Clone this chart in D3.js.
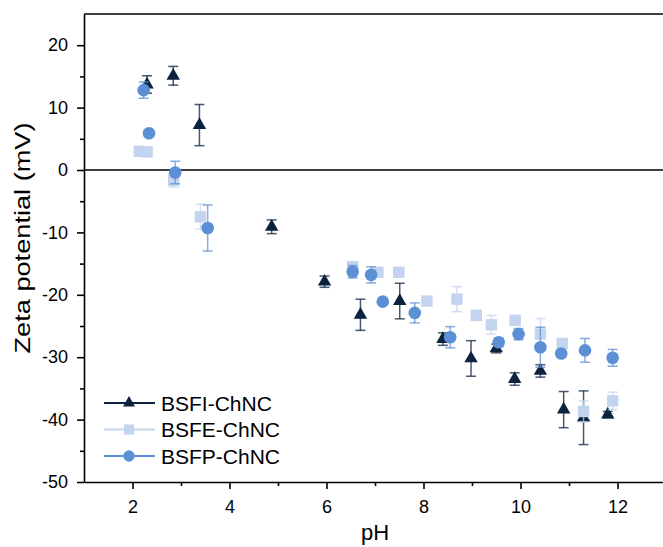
<!DOCTYPE html>
<html>
<head>
<meta charset="utf-8">
<script src="https://cdn.jsdelivr.net/npm/d3@7"></script>
<style>
  body { margin: 0; background: #fff; }
  text { font-family: "Liberation Sans", Arial, sans-serif; fill: #000; }
</style>
</head>
<body>
<div id="chart"></div>
<script>
// BSFI-ChNC (triangles)
var bsfiPH   = [2.30, 2.84, 3.38, 4.87, 5.96, 6.70, 7.51, 8.40, 8.98, 9.50, 9.88, 10.41, 10.89, 11.30, 11.80];
var bsfiZeta = [13.7, 15.1, 7.2, -9.1, -17.9, -23.2, -21.0, -27.1, -30.2, -28.6, -33.5, -32.2, -38.4, -39.7, -39.2];
var bsfiErr  = [1.4, 1.5, 3.3, 1.1, 0.9, 2.5, 2.85, 1.0, 2.85, 0.7, 1.0, 1.0, 2.9, 4.3, 0.5];

// BSFE-ChNC (squares)
var bsfePH   = [2.14, 2.30, 2.85, 3.40, 6.54, 7.06, 7.49, 8.07, 8.69, 9.09, 9.40, 9.89, 10.41, 10.86, 11.30, 11.90];
var bsfeZeta = [3.0, 2.9, -1.65, -7.5, -15.5, -16.4, -16.4, -21.0, -20.7, -23.3, -24.8, -24.1, -26.3, -27.8, -38.7, -37.0];
var bsfeErr  = [0.3, 0.3, 1.1, 2.0, 0.5, 0.3, 0.3, 0.6, 2.0, 0.3, 1.5, 0.3, 2.5, 0.6, 1.7, 1.4];

// BSFP-ChNC (circles)
var bsfpPH   = [2.23, 2.34, 2.88, 3.55, 6.54, 6.92, 7.16, 7.82, 8.55, 9.55, 9.96, 10.41, 10.84, 11.33, 11.90];
var bsfpZeta = [12.8, 5.9, -0.4, -9.3, -16.3, -16.8, -21.1, -22.9, -26.8, -27.6, -26.3, -28.4, -29.4, -28.9, -30.1];
var bsfpErr  = [1.3, 0.3, 1.8, 3.7, 1.0, 1.3, 0.3, 1.6, 1.7, 0.7, 0.9, 3.2, 0.4, 1.9, 1.35];

var xTicks = [2, 4, 6, 8, 10, 12];
var yTicks = [-50, -40, -30, -20, -10, 0, 10, 20];

var width = 663, height = 547;

var svg = d3.select("#chart").append("svg")
  .attr("width", width)
  .attr("height", height);

var x = d3.scaleLinear().domain([1, 13]).range([84, 666]);
var y = d3.scaleLinear().domain([-50, 25]).range([482, 14]);

// series, drawn in this order (BSFI at the back)
var series = [
  {name: "BSFI-ChNC", ph: bsfiPH, zeta: bsfiZeta, err: bsfiErr, color: "#0c2340", shape: d3.symbolTriangle, size: 78},
  {name: "BSFE-ChNC", ph: bsfePH, zeta: bsfeZeta, err: bsfeErr, color: "#c3d4ef", shape: d3.symbolSquare, size: 130},
  {name: "BSFP-ChNC", ph: bsfpPH, zeta: bsfpZeta, err: bsfpErr, color: "#5d8fd5", shape: d3.symbolCircle, size: 125}
];

// zero line
svg.append("line")
  .attr("x1", x(1)).attr("x2", width)
  .attr("y1", y(0)).attr("y2", y(0))
  .attr("stroke", "#000")
  .attr("stroke-width", 1.6);

// top frame line
svg.append("line")
  .attr("x1", x(1)).attr("x2", width)
  .attr("y1", y(25)).attr("y2", y(25))
  .attr("stroke", "#000")
  .attr("stroke-width", 1.6);

// x axis with minor ticks
var xMinor = svg.append("g")
  .attr("transform", "translate(0," + y(-50) + ")")
  .call(d3.axisBottom(x).tickValues([3, 5, 7, 9, 11]).tickSize(4).tickFormat(""));
xMinor.select(".domain").remove();
var xAxis = svg.append("g")
  .attr("transform", "translate(0," + y(-50) + ")")
  .call(d3.axisBottom(x).tickValues(xTicks).tickSize(7).tickPadding(11).tickSizeOuter(0));
xAxis.selectAll("text").style("font-size", "18px");

// y axis with minor ticks
var yMinor = svg.append("g")
  .attr("transform", "translate(" + x(1) + ",0)")
  .call(d3.axisLeft(y).tickValues([-45, -35, -25, -15, -5, 5, 15]).tickSize(4).tickFormat(""));
yMinor.select(".domain").remove();
var yAxis = svg.append("g")
  .attr("transform", "translate(" + x(1) + ",0)")
  .call(d3.axisLeft(y).tickValues(yTicks).tickSize(7).tickPadding(9).tickSizeOuter(0)
    .tickFormat(function(d) { return d < 0 ? "-" + Math.abs(d) : d; }));
yAxis.selectAll("text").style("font-size", "18px");

svg.selectAll(".domain, .tick line")
  .attr("stroke", "#000")
  .attr("stroke-width", 1.6);

// axis titles
svg.append("text")
  .attr("x", 375).attr("y", 540)
  .attr("text-anchor", "middle")
  .style("font-size", "22px")
  .text("pH");

svg.append("text")
  .attr("transform", "translate(30," + 238 + ") rotate(-90)")
  .attr("text-anchor", "middle")
  .attr("textLength", 231)
  .attr("lengthAdjust", "spacingAndGlyphs")
  .style("font-size", "22px")
  .text("Zeta potential (mV)");

// points with error bars
series.forEach(function(s) {
  var pts = s.ph.map(function(p, i) { return {ph: p, z: s.zeta[i], e: s.err[i]}; });
  var g = svg.append("g");

  var eb = g.selectAll(".eb").data(pts).enter().append("g")
    .attr("stroke", s.color)
    .attr("stroke-opacity", 0.75)
    .attr("stroke-width", 1.5);
  eb.append("line")
    .attr("x1", function(d) { return x(d.ph); })
    .attr("x2", function(d) { return x(d.ph); })
    .attr("y1", function(d) { return y(d.z + d.e); })
    .attr("y2", function(d) { return y(d.z - d.e); });
  eb.append("line")
    .attr("x1", function(d) { return x(d.ph) - 5; })
    .attr("x2", function(d) { return x(d.ph) + 5; })
    .attr("y1", function(d) { return y(d.z + d.e); })
    .attr("y2", function(d) { return y(d.z + d.e); });
  eb.append("line")
    .attr("x1", function(d) { return x(d.ph) - 5; })
    .attr("x2", function(d) { return x(d.ph) + 5; })
    .attr("y1", function(d) { return y(d.z - d.e); })
    .attr("y2", function(d) { return y(d.z - d.e); });

  g.selectAll(".pt").data(pts).enter().append("path")
    .attr("d", d3.symbol().type(s.shape).size(s.size))
    .attr("transform", function(d) { return "translate(" + x(d.ph) + "," + y(d.z) + ")"; })
    .attr("fill", s.color);
});

// legend
var legend = svg.append("g");
series.forEach(function(s, i) {
  var ly = 403 + i * 26.5;
  legend.append("line")
    .attr("x1", 104).attr("x2", 155)
    .attr("y1", ly).attr("y2", ly)
    .attr("stroke", s.color)
    .attr("stroke-width", 2);
  legend.append("path")
    .attr("d", d3.symbol().type(s.shape).size(s.size * 0.8))
    .attr("transform", "translate(129," + ly + ")")
    .attr("fill", s.color);
  legend.append("text")
    .attr("x", 161).attr("y", ly + 7.5)
    .style("font-size", "21px")
    .text(s.name);
});
</script>
</body>
</html>
